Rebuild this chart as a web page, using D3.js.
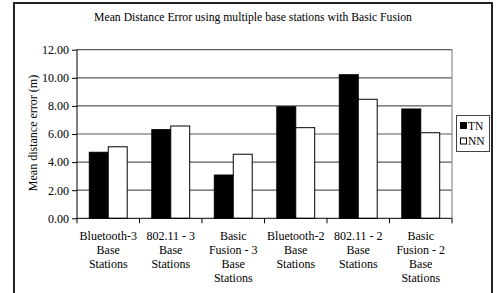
<!DOCTYPE html>
<html><head><meta charset="utf-8">
<script src="https://cdn.jsdelivr.net/npm/d3@7"></script>
<style>body{margin:0;background:#fff}svg{display:block}text{font-family:"Liberation Serif","Times New Roman",serif;fill:#000}</style>
</head><body>
<script>
const categories = [
  ["Bluetooth-3","Base","Stations"],
  ["802.11 - 3","Base","Stations"],
  ["Basic","Fusion - 3","Base","Stations"],
  ["Bluetooth-2","Base","Stations"],
  ["802.11 - 2","Base","Stations"],
  ["Basic","Fusion - 2","Base","Stations"]
];
const seriesNames = ["TN","NN"];
const tnValues = [4.70, 6.31, 3.08, 7.94, 10.22, 7.78];
const nnValues = [5.09, 6.57, 4.56, 6.45, 8.47, 6.09];
const yTicks = [0,2,4,6,8,10,12];
const colors = {TN:"#000", NN:"#fff"};

const W=497,H=293;
const svg=d3.select("body").append("svg").attr("width",W).attr("height",H);
svg.append("path").attr("d",`M14,${H+2}V3H492V${H+2}`).attr("fill","none").attr("stroke","#222").attr("stroke-width",2);

svg.append("text").attr("x",253).attr("y",21).attr("text-anchor","middle").style("font-size","11.7px")
  .text("Mean Distance Error using multiple base stations with Basic Fusion");

const L=77,R=452,T=49.7,B=218.3;
const idx=categories.map((d,i)=>i);
const x0=d3.scaleBand().domain(idx).range([L,R]).padding(0);
const x1=d3.scaleBand().domain(seriesNames).range([12.3, x0.bandwidth()-12.3]).padding(0);
const y=d3.scaleLinear().domain([0,12]).range([B,T]);

svg.append("g").selectAll("line").data(yTicks.filter(t=>t>0)).join("line")
  .attr("x1",L).attr("x2",R).attr("y1",d=>y(d)).attr("y2",d=>y(d))
  .attr("stroke","#5a5a5a").attr("stroke-width",1.2);
svg.append("line").attr("x1",R).attr("x2",R).attr("y1",T).attr("y2",B).attr("stroke","#8a8a8a").attr("stroke-width",1.2);

const data=[];
idx.forEach(i=>{data.push({i,s:"TN",v:tnValues[i]});data.push({i,s:"NN",v:nnValues[i]});});
svg.append("g").selectAll("rect").data(data).join("rect")
  .attr("x",d=>x0(d.i)+x1(d.s)).attr("width",x1.bandwidth())
  .attr("y",d=>y(d.v)).attr("height",d=>B-y(d.v))
  .attr("fill",d=>colors[d.s]).attr("stroke","#000").attr("stroke-width",1);

const ya=svg.append("g").attr("transform",`translate(${L},0)`)
  .call(d3.axisLeft(y).tickValues(yTicks).tickFormat(d3.format(".2f")).tickSize(5).tickPadding(3));
ya.attr("font-family",null).attr("font-size",null);
ya.select(".domain").attr("stroke","#000").attr("d",`M0,${T}V${B}`);
ya.selectAll("line").attr("stroke","#000");
ya.selectAll("text").style("font-size","12px").attr("fill","#000");

const xa=svg.append("g").attr("transform",`translate(0,${B})`);
xa.append("line").attr("x1",L).attr("x2",R).attr("stroke","#000");
const bounds=idx.map(i=>x0(i)).concat([R]);
xa.selectAll(".tk").data(bounds).join("line").attr("x1",d=>d).attr("x2",d=>d).attr("y1",0).attr("y2",5).attr("stroke","#000");
xa.selectAll(".cl").data(idx).join("text")
  .attr("text-anchor","middle").style("font-size","12px")
  .attr("transform",i=>`translate(${x0(i)+x0.bandwidth()/2},0)`)
  .each(function(i){
    const t=d3.select(this);
    categories[i].forEach((ln,k)=>t.append("tspan").attr("x",0).attr("y",22+k*14).text(ln));
  });

svg.append("text").attr("transform","translate(37,133) rotate(-90)").attr("text-anchor","middle").style("font-size","12px")
  .text("Mean distance error (m)");

const lg=svg.append("g");
lg.append("rect").attr("x",456.5).attr("y",115.5).attr("width",33).attr("height",36).attr("fill","#fff").attr("stroke","#444");
seriesNames.forEach((s,k)=>{
  lg.append("rect").attr("x",460.5).attr("y",122.5+k*15.5).attr("width",6).attr("height",6).attr("fill",colors[s]).attr("stroke","#000");
  lg.append("text").attr("x",468).attr("y",129.5+k*15.5).style("font-size","11.5px").text(s);
});
</script>
</body></html>
